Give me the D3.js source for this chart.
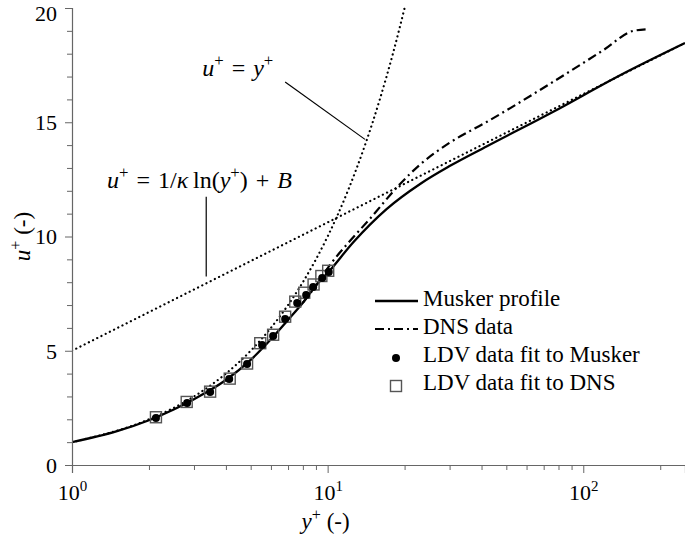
<!DOCTYPE html>
<html>
<head>
<meta charset="utf-8">
<script src="https://cdn.jsdelivr.net/npm/d3@7"></script>
<style>
    body { margin: 0; background: #fff; }
    svg text { font-family: "Liberation Serif", "Times New Roman", serif; fill: #000; white-space: pre; }
</style>
</head>
<body>
<div id="wrapper"></div>
<script>
// values
const muskerYp = [1, 1.5, 2, 2.5, 3, 3.5, 4, 5, 6, 7, 8, 9, 10, 12.6, 17, 23, 30, 42, 76, 140, 250]
const muskerU = [1.0, 1.48, 1.96, 2.43, 2.88, 3.3, 3.72, 4.6, 5.5, 6.35, 7.1, 7.85, 8.4, 9.75, 11.2, 12.3, 13.08, 13.95, 15.45, 17.07, 18.47]

const dnsYp = [8, 9, 10.2, 12, 14.7, 19.2, 23, 30, 42, 76.5, 120, 157, 178]
const dnsU = [7.1, 7.85, 8.75, 9.7, 10.8, 12.3, 13.15, 14.1, 15.02, 16.78, 18.16, 19.0, 19.07]

const linearYp = [1, 2, 3, 4, 5, 6, 7, 8, 9, 10, 12, 14, 16, 18, 20]
const linearU = [1, 2, 3, 4, 5, 6, 7, 8, 9, 10, 12, 14, 16, 18, 20]

const logLawYp = [1, 250]
const logLawU = [5, 18.47]

const ldvMuskerYp = [2.13, 2.82, 3.47, 4.12, 4.84, 5.54, 6.12, 6.82, 7.6, 8.24, 8.78, 9.52, 10.1]
const ldvMuskerU = [2.06, 2.71, 3.19, 3.76, 4.42, 5.25, 5.65, 6.39, 7.09, 7.44, 7.79, 8.18, 8.45]

const ldvDnsYp = [2.13, 2.81, 3.47, 4.14, 4.84, 5.45, 6.12, 6.82, 7.47, 8.1, 8.81, 9.45, 10.05]
const ldvDnsU = [2.09, 2.76, 3.21, 3.78, 4.44, 5.33, 5.7, 6.49, 7.15, 7.54, 7.9, 8.27, 8.5]

const yTicks = [0, 5, 10, 15, 20]
const xTicks = [1, 10, 100]
const xTickExponents = ["0", "1", "2"]

const legendLabels = ["Musker profile", "DNS data", "LDV data fit to Musker", "LDV data fit to DNS"]

const zip = (xs, ys) => xs.map((x, i) => ({ yp: x, u: ys[i] }))

const sp = "\u2004"

// writes math-like text: parts are [string, style] with style "i" (italic), "sup" or ""
function mathText(sel, parts, size) {
    let shifted = false
    parts.forEach(([str, style]) => {
        const t = sel.append("tspan").text(str)
        if (style === "sup") {
            t.attr("font-size", size * 0.7).attr("dy", shifted ? 0 : -size * 0.4)
            shifted = true
        } else {
            if (shifted) t.attr("dy", size * 0.4)
            shifted = false
            if (style === "i") t.attr("font-style", "italic")
        }
    })
}

function drawChart() {
    const dimensions = {
        width: 685,
        height: 538,
        margin: { top: 8, right: 0, bottom: 73, left: 72 },
    }
    dimensions.boundedWidth = dimensions.width - dimensions.margin.left - dimensions.margin.right
    dimensions.boundedHeight = dimensions.height - dimensions.margin.top - dimensions.margin.bottom

    const wrapper = d3.select("#wrapper")
        .append("svg")
        .attr("width", dimensions.width)
        .attr("height", dimensions.height)

    const bounds = wrapper.append("g")
        .attr("transform", `translate(${dimensions.margin.left},${dimensions.margin.top})`)

    bounds.append("defs").append("clipPath")
        .attr("id", "clip")
        .append("rect")
        .attr("x", 0)
        .attr("y", -2)
        .attr("width", dimensions.boundedWidth)
        .attr("height", dimensions.boundedHeight + 2)

    const xScale = d3.scaleLog()
        .domain([1, 250])
        .range([0, dimensions.boundedWidth])

    const yScale = d3.scaleLinear()
        .domain([0, 20])
        .range([dimensions.boundedHeight, 0])

    const lineGen = d3.line()
        .x(d => xScale(d.yp))
        .y(d => yScale(d.u))
        .curve(d3.curveMonotoneX)

    const clip = bounds.append("g").attr("clip-path", "url(#clip)")

    // reference lines (dotted)
    clip.append("path")
        .attr("d", lineGen(zip(logLawYp, logLawU)))
        .attr("fill", "none")
        .attr("stroke", "#000")
        .attr("stroke-width", 2.2)
        .attr("stroke-linecap", "round")
        .attr("stroke-dasharray", "0.1,4.6")

    clip.append("path")
        .attr("d", lineGen(zip(linearYp, linearU)))
        .attr("fill", "none")
        .attr("stroke", "#000")
        .attr("stroke-width", 2.2)
        .attr("stroke-linecap", "round")
        .attr("stroke-dasharray", "0.1,4.6")

    // DNS data
    clip.append("path")
        .attr("d", lineGen(zip(dnsYp, dnsU)))
        .attr("fill", "none")
        .attr("stroke", "#000")
        .attr("stroke-width", 2.2)
        .attr("stroke-dasharray", "9,4,2,4")

    // Musker profile
    clip.append("path")
        .attr("d", lineGen(zip(muskerYp, muskerU)))
        .attr("fill", "none")
        .attr("stroke", "#000")
        .attr("stroke-width", 2.3)

    // LDV points
    const sq = 11
    bounds.append("g").selectAll("rect")
        .data(zip(ldvDnsYp, ldvDnsU))
        .join("rect")
        .attr("x", d => xScale(d.yp) - sq / 2)
        .attr("y", d => yScale(d.u) - sq / 2)
        .attr("width", sq)
        .attr("height", sq)
        .attr("fill", "none")
        .attr("stroke", "#555")
        .attr("stroke-width", 1.4)

    bounds.append("g").selectAll("circle")
        .data(zip(ldvMuskerYp, ldvMuskerU))
        .join("circle")
        .attr("cx", d => xScale(d.yp))
        .attr("cy", d => yScale(d.u))
        .attr("r", 4)
        .attr("fill", "#000")

    // annotations
    bounds.append("line")
        .attr("x1", xScale(6.82)).attr("y1", yScale(16.76))
        .attr("x2", xScale(14.0)).attr("y2", yScale(14.25))
        .attr("stroke", "#000").attr("stroke-width", 1.2)
    mathText(bounds.append("text")
        .attr("x", xScale(3.23)).attr("y", yScale(17.02))
        .attr("font-size", 24),
        [["u", "i"], ["+", "sup"], [sp + "=" + sp, ""], ["y", "i"], ["+", "sup"]], 24)

    bounds.append("line")
        .attr("x1", xScale(3.35)).attr("y1", yScale(11.74))
        .attr("x2", xScale(3.35)).attr("y2", yScale(8.25))
        .attr("stroke", "#000").attr("stroke-width", 1.2)
    mathText(bounds.append("text")
        .attr("x", xScale(1.37)).attr("y", yScale(12.12))
        .attr("font-size", 24),
        [["u", "i"], ["+", "sup"], [sp + "=" + sp + "1/", ""], ["κ", "i"], ["\u2009ln(", ""], ["y", "i"], ["+", "sup"], [")" + sp + "+" + sp, ""], ["B", "i"]], 24)

    // axes
    const axisColor = "#666"

    const yAxis = bounds.append("g")
        .call(d3.axisLeft(yScale).tickValues(yTicks).tickSize(7).tickPadding(8))
        .attr("font-size", 22)
    bounds.append("g")
        .call(d3.axisLeft(yScale).tickValues(d3.range(0, 21).filter(v => v % 5)).tickSize(5).tickFormat(""))
        .call(g => g.select(".domain").remove())
        .selectAll("line").attr("stroke", axisColor)

    const xAxis = bounds.append("g")
        .attr("transform", `translate(0,${dimensions.boundedHeight})`)
        .call(d3.axisBottom(xScale).tickValues(xTicks).tickSize(8).tickFormat(""))
    const minorX = []
    ;[1, 10, 100].forEach(dec => d3.range(2, 10).forEach(m => { if (dec * m <= 250) minorX.push(dec * m) }))
    bounds.append("g")
        .attr("transform", `translate(0,${dimensions.boundedHeight})`)
        .call(d3.axisBottom(xScale).tickValues(minorX).tickSize(5).tickFormat(""))
        .call(g => g.select(".domain").remove())
        .selectAll("line").attr("stroke", axisColor)

    ;[yAxis, xAxis].forEach(a => {
        a.select(".domain").attr("stroke", axisColor).attr("stroke-width", 1.2)
        a.selectAll(".tick line").attr("stroke", axisColor)
    })
    // top label sits right at the window edge, nudge it in a bit
    yAxis.selectAll(".tick text").attr("dy", d => d === 20 ? "0.55em" : "0.33em")

    xAxis.selectAll(".tick").each(function (d, i) {
        const t = d3.select(this).append("text")
            .attr("y", 35)
            .attr("text-anchor", "middle")
            .attr("font-size", 22)
        t.append("tspan").text("10")
        t.append("tspan").text(xTickExponents[i]).attr("font-size", 15).attr("dy", -9)
    })

    // axis labels
    mathText(bounds.append("text")
        .attr("x", xScale(10) - 2)
        .attr("y", dimensions.boundedHeight + 64)
        .attr("text-anchor", "middle")
        .attr("font-size", 23),
        [["y", "i"], ["+", "sup"], [" (-)", ""]], 23)

    mathText(bounds.append("text")
        .attr("transform", `translate(${-dimensions.margin.left + 30},${yScale(10)}) rotate(-90)`)
        .attr("text-anchor", "middle")
        .attr("font-size", 23),
        [["u", "i"], ["+", "sup"], [" (-)", ""]], 23)

    // legend
    const legend = wrapper.append("g").attr("transform", "translate(375,306)")
    const rowH = 28
    legend.append("line").attr("x1", 0).attr("x2", 43).attr("y1", -5).attr("y2", -5)
        .attr("stroke", "#000").attr("stroke-width", 2.3)
    legend.append("line").attr("x1", 0).attr("x2", 43).attr("y1", rowH - 5).attr("y2", rowH - 5)
        .attr("stroke", "#000").attr("stroke-width", 2.2).attr("stroke-dasharray", "9,4,2,4")
    legend.append("circle").attr("cx", 21).attr("cy", 2 * rowH - 4).attr("r", 4).attr("fill", "#000")
    legend.append("rect").attr("x", 21 - sq / 2).attr("y", 3 * rowH - 4 - sq / 2)
        .attr("width", sq).attr("height", sq)
        .attr("fill", "none").attr("stroke", "#555").attr("stroke-width", 1.4)
    legend.selectAll("text.lbl")
        .data(legendLabels)
        .join("text")
        .attr("class", "lbl")
        .attr("x", 48)
        .attr("y", (d, i) => i * rowH)
        .attr("font-size", 23)
        .text(d => d)
}

drawChart()
</script>
</body>
</html>
